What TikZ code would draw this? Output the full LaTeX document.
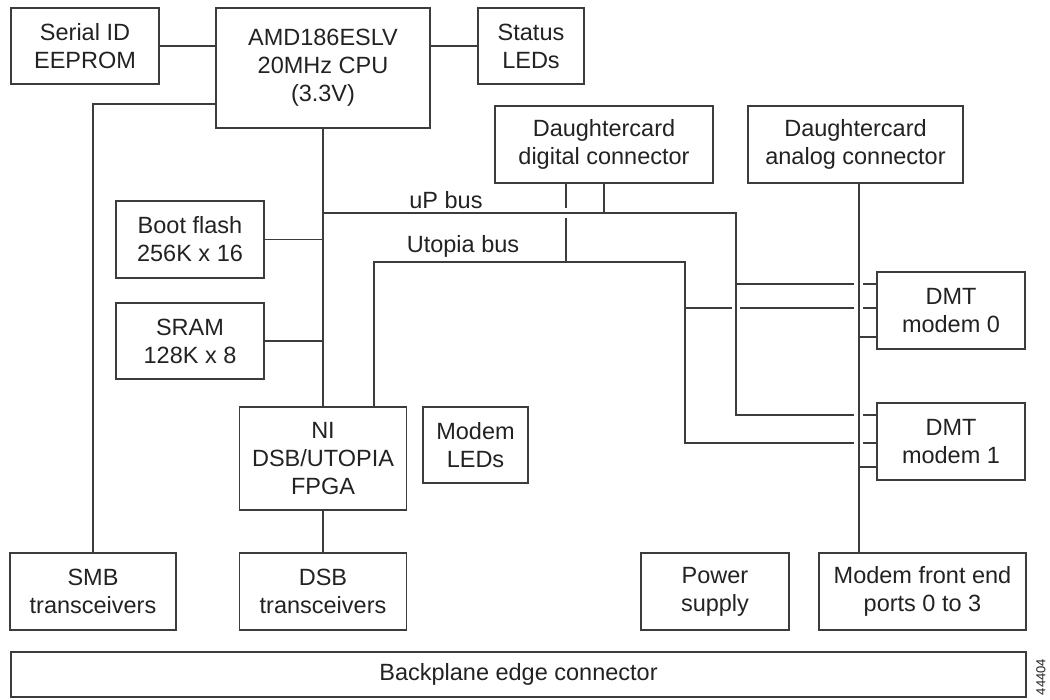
\documentclass[tikz,border=0pt]{standalone}
\usepackage{fontspec}
\setmainfont{Liberation Sans}
\usetikzlibrary{calc}
\definecolor{ln}{HTML}{3C3C3C}
\definecolor{tx}{HTML}{222222}
\begin{document}
\begin{tikzpicture}[x=1pt,y=-1pt,
  box/.style={draw=ln, line width=1.2pt, align=center, inner sep=0pt, text=tx,
    font=\fontsize{23.5}{28}\selectfont},
  lbl/.style={text=tx, inner sep=0pt, font=\fontsize{23.5}{28}\selectfont},
  wire/.style={draw=ln, line width=1.2pt}]
\useasboundingbox (0,0) rectangle (1050,700);

% boxes
\node[box, minimum width=148pt, minimum height=76pt] (eeprom) at (85,46) {Serial ID\\EEPROM};
\node[box, minimum width=214pt, minimum height=120pt] (cpu) at (323,68) {AMD186ESLV\\20MHz CPU\\(3.3V)};
\node[box, minimum width=106pt, minimum height=76pt] (status) at (531,46) {Status\\LEDs};
\node[box, minimum width=218pt, minimum height=77pt] (digital) at (604,144.5) {Daughtercard\\digital connector};
\node[box, minimum width=215pt, minimum height=77pt] (analog) at (855.5,144.5) {Daughtercard\\analog connector};
\node[box, minimum width=148pt, minimum height=77pt] (boot) at (190,239.5) {Boot flash\\256K x 16};
\node[box, minimum width=148pt, minimum height=76pt] (sram) at (190,341) {SRAM\\128K x 8};
\node[box, minimum width=167pt, minimum height=103pt] (ni) at (323,458.5) {NI\\DSB/UTOPIA\\FPGA};
\node[box, minimum width=105pt, minimum height=76pt] (leds) at (475.5,445) {Modem\\LEDs};
\node[box, minimum width=148pt, minimum height=77pt] (modem0) at (951,310.5) {DMT\\modem 0};
\node[box, minimum width=148pt, minimum height=77pt] (modem1) at (951,441.5) {DMT\\modem 1};
\node[box, minimum width=166pt, minimum height=77pt] (smb) at (93,591.5) {SMB\\transceivers};
\node[box, minimum width=167pt, minimum height=77pt] (dsb) at (323,591.5) {DSB\\transceivers};
\node[box, minimum width=148pt, minimum height=77pt] (power) at (715,591.5) {Power\\supply};
\node[box, minimum width=207pt, minimum height=77pt] (front) at (922.5,591.5) {Modem front end\\ports 0 to 3};
\node[box, minimum width=1015pt, minimum height=45pt] (backplane) at (518.5,674.5) {Backplane edge connector};

% bus labels
\node[lbl, anchor=base] (uplbl) at (446,209) {uP bus};
\node[lbl, anchor=base] (utlbl) at (463,253) {Utopia bus};
\node[rotate=90, text=tx, inner sep=0pt, font=\fontsize{13}{15}\selectfont] (tag) at (1041,677) {44404};

% coordinates
\coordinate (smbc) at (93,104);
\coordinate (upL) at (323,213);
\coordinate (upR) at (736,213);
\coordinate (upB) at (736,415);
\coordinate (up0) at (736,284);
\coordinate (utL) at (374,262);
\coordinate (utR) at (685,262);
\coordinate (utB) at (685,443);
\coordinate (ut0) at (685,308);
\coordinate (dg) at (566,183);
\coordinate (an) at (859,183);
\coordinate (an0) at (859,337);
\coordinate (an1) at (859,467);

% CPU connections
\draw[wire] (eeprom.east) -- (eeprom.east -| cpu.west);
\draw[wire] (cpu.east |- status.west) -- (status.west);
\draw[wire] (smbc -| cpu.west) -- (smbc) -- (smbc |- smb.north);
\draw[wire] (cpu.south) -- (cpu.south |- ni.north);
\draw[wire] (boot.east) -- (boot.east -| cpu.south);
\draw[wire] (sram.east) -- (sram.east -| cpu.south);
\draw[wire] (ni.south) -- (dsb.north);

% uP bus
\draw[wire] (upL) -- (upR) -- (upB) -- ($(upB -| an)+(-5,0)$);
\draw[wire] ($(upB -| an)+(4,0)$) -- (upB -| modem1.west);
\draw[wire] (up0) -- ($(up0 -| an)+(-5,0)$);
\draw[wire] ($(up0 -| an)+(4,0)$) -- (up0 -| modem0.west);
\draw[wire] (digital.south) -- (digital.south |- upL);

% Utopia bus
\draw[wire] (utL |- ni.north) -- (utL) -- (utR) -- (utB) -- ($(utB -| an)+(-5,0)$);
\draw[wire] ($(utB -| an)+(4,0)$) -- (utB -| modem1.west);
\draw[wire] (ut0) -- ($(ut0 -| up0)+(-4,0)$);
\draw[wire] ($(ut0 -| up0)+(4,0)$) -- ($(ut0 -| an)+(-5,0)$);
\draw[wire] ($(ut0 -| an)+(4,0)$) -- (ut0 -| modem0.west);
\draw[wire] (dg) -- ($(dg |- upL)+(0,-5)$);
\draw[wire] ($(dg |- upL)+(0,5)$) -- (dg |- utL);

% analog
\draw[wire] (an) -- (an |- front.north);
\draw[wire] (an0) -- (an0 -| modem0.west);
\draw[wire] (an1) -- (an1 -| modem1.west);
\end{tikzpicture}
\end{document}
